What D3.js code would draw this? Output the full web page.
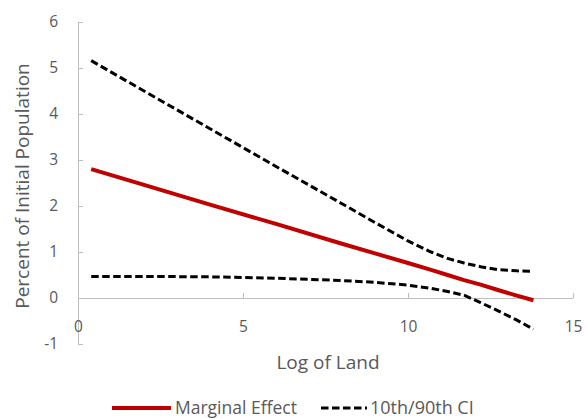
<!DOCTYPE html>
<html>
<head>
<meta charset="utf-8">
<script src="https://cdn.jsdelivr.net/npm/d3@7"></script>
<style>
  body { margin: 0; background: #fff; }
  svg text { font-family: "Open Sans", "Noto Sans", sans-serif; fill: #595959; }
</style>
</head>
<body>
<svg width="587" height="419"></svg>
<script>
// x positions (log of land) and series
const landX = [0.4, 2, 4, 6, 8, 9, 10, 10.7, 11.2, 11.7, 12.2, 12.7, 13.3, 13.8];
const marginal = [2.8, 2.46, 2.03, 1.61, 1.18, 0.97, 0.76, 0.61, 0.50, 0.39, 0.29, 0.18, 0.05, -0.05];
const upperCI = [5.16, 4.5, 3.68, 2.86, 2.05, 1.64, 1.24, 1.0, 0.86, 0.76, 0.68, 0.62, 0.59, 0.58];
const lowerCI = [0.47, 0.47, 0.46, 0.43, 0.38, 0.34, 0.28, 0.21, 0.14, 0.06, -0.1, -0.27, -0.48, -0.68];
const xTicks = [0, 5, 10, 15];
const yTicks = [-1, 0, 1, 2, 3, 4, 5, 6];

const svg = d3.select('svg');
const x = d3.scaleLinear().domain([0, 15]).range([78, 573]);
const y = d3.scaleLinear().domain([-1, 6]).range([344, 22]);

const axisColor = '#bfbfbf';
const plain = d => String(d);

// y axis, ticks pointing inward
const yAxis = svg.append('g')
    .attr('transform', `translate(${x(0)},0)`)
    .call(d3.axisLeft(y).tickValues(yTicks).tickFormat(plain)
        .tickSize(-5).tickSizeOuter(0).tickPadding(20));
// x axis sits on y = 0
const xAxis = svg.append('g')
    .attr('transform', `translate(0,${y(0)})`)
    .call(d3.axisBottom(x).tickValues(xTicks).tickFormat(plain)
        .tickSize(-5).tickSizeOuter(0).tickPadding(23));

[yAxis, xAxis].forEach(g => {
    g.select('.domain').attr('stroke', axisColor);
    g.selectAll('.tick line').attr('stroke', axisColor);
    g.selectAll('.tick text').style('font-size', '15.5px').style('fill', '#595959');
});

const line = vals => d3.line()
    .x((d, i) => x(landX[i]))
    .y(d => y(d))(vals);

svg.append('path').attr('d', line(upperCI))
    .attr('fill', 'none').attr('stroke', '#000').attr('stroke-width', 3)
    .attr('stroke-dasharray', '7.5,3.5');
svg.append('path').attr('d', line(lowerCI))
    .attr('fill', 'none').attr('stroke', '#000').attr('stroke-width', 3)
    .attr('stroke-dasharray', '7.5,3.5');
svg.append('path').attr('d', line(marginal))
    .attr('fill', 'none').attr('stroke', '#c00000').attr('stroke-width', 4);

// axis titles
svg.append('text')
    .attr('transform', 'translate(29,186) rotate(-90)')
    .attr('text-anchor', 'middle')
    .style('font-size', '19px')
    .text('Percent of Initial Population');
svg.append('text')
    .attr('x', 328).attr('y', 369)
    .attr('text-anchor', 'middle')
    .style('font-size', '19px')
    .text('Log of Land');

// legend
const legend = svg.append('g').attr('transform', 'translate(0,408)');
legend.append('line').attr('x1', 112).attr('x2', 171).attr('y1', 0).attr('y2', 0)
    .attr('stroke', '#c00000').attr('stroke-width', 4);
legend.append('text').attr('x', 175).attr('y', 5.5).style('font-size', '17.5px').text('Marginal Effect');
legend.append('line').attr('x1', 321).attr('x2', 367).attr('y1', 0).attr('y2', 0)
    .attr('stroke', '#000').attr('stroke-width', 3).attr('stroke-dasharray', '7.5,3.5');
legend.append('text').attr('x', 370).attr('y', 5.5).style('font-size', '18px').text('10th/90th CI');
</script>
</body>
</html>
